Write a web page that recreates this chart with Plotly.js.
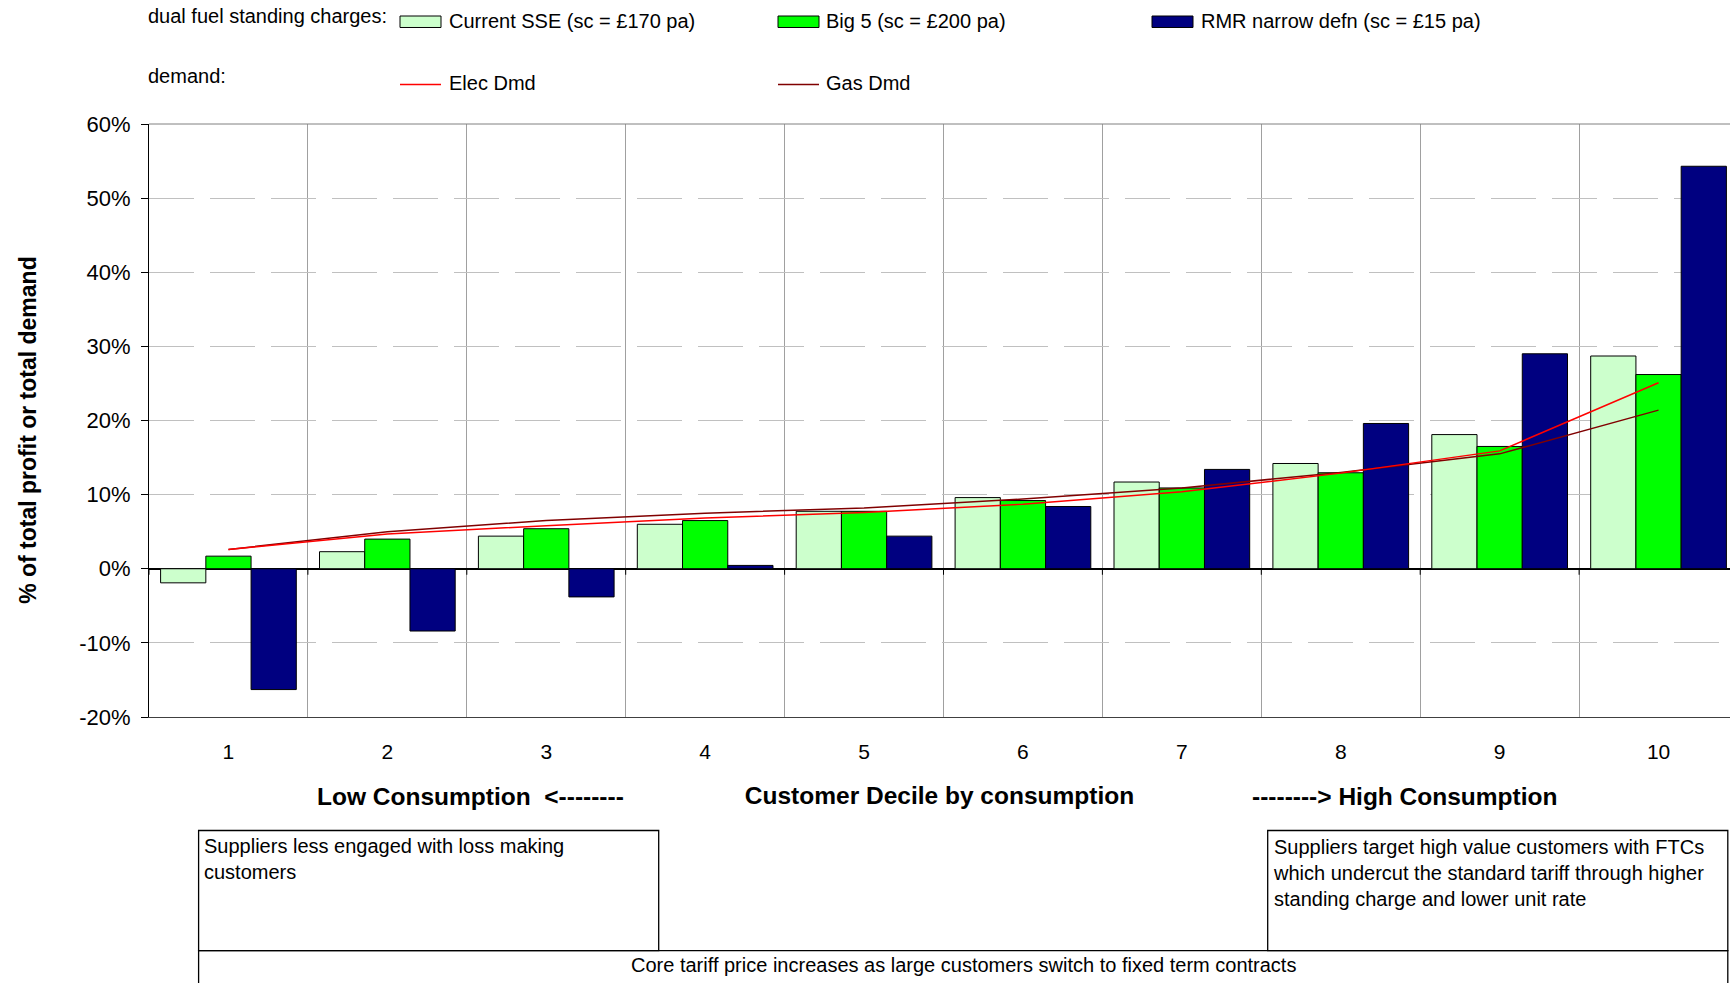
<!DOCTYPE html>
<html><head><meta charset="utf-8">
<script src="https://cdn.plot.ly/plotly-3.0.1.min.js"></script>
<style>html,body{margin:0;padding:0;overflow:hidden;background:#fff}#chart{width:1730px;height:983px}</style>
</head><body><div id="chart"></div>
<script>
// ---------- data ----------
const deciles = [1,2,3,4,5,6,7,8,9,10];
const barNames = ['Current SSE (sc = £170 pa)','Big 5 (sc = £200 pa)','RMR narrow defn (sc = £15 pa)'];
const currentSSE = [-1.9, 2.3, 4.4, 6.0, 7.75, 9.6, 11.7, 14.2, 18.1, 28.7];
const big5       = [1.7, 4.0, 5.4, 6.5, 7.75, 9.2, 10.9, 12.95, 16.5, 26.2];
const rmrNarrow  = [-16.3, -8.4, -3.8, 0.45, 4.4, 8.4, 13.4, 19.6, 29.0, 54.3];
const lineNames = ['Elec Dmd','Gas Dmd'];
const elecDmd = [2.6, 4.7, 5.8, 6.85, 7.6, 8.7, 10.4, 12.9, 15.9, 25.1];
const gasDmd  = [2.6, 5.0, 6.5, 7.5, 8.2, 9.4, 10.9, 13.0, 15.5, 21.4];
const yTickVals = [-20,-10,0,10,20,30,40,50,60];
const yTickText = yTickVals.map(v => v + '%');
const yTitle = '% of total profit or total demand';
const legendRowLabels = ['dual fuel standing charges:','demand:'];
const xTitleLeft = 'Low Consumption  <--------';
const xTitleMid = 'Customer Decile by consumption';
const xTitleRight = '--------> High Consumption';
const noteLow = 'Suppliers less engaged with loss making<br>customers';
const noteHigh = 'Suppliers target high value customers with FTCs<br>which undercut the standard tariff through higher<br>standing charge and lower unit rate';
const noteCore = 'Core tariff price increases as large customers switch to fixed term contracts';

// ---------- styling ----------
const barColors = ['#CCFFCC','#00FF00','#000080'];
const lineColors = ['#FF0000','#800000'];
const FONT = 'Liberation Sans, Arial, sans-serif';
const TXT = 20;

// plot area in pixels
const L = 149, T = 123.6, B = 717.2, R = 1730, WIDTH = 1730, HEIGHT = 983;
const PW = R - L, PH = B - T;
const px = v => (v - L) / PW;
const py = v => (B - v) / PH;

const barSeries = [currentSSE, big5, rmrNarrow];
const lineSeries = [elecDmd, gasDmd];

const traces = [];
barSeries.forEach((vals, i) => traces.push({
  type: 'bar', x: deciles, y: vals, name: barNames[i], showlegend: false,
  marker: {color: barColors[i], line: {color: '#000000', width: 1}}
}));
// gas first, elec on top
[1, 0].forEach(i => traces.push({
  type: 'scatter', mode: 'lines', x: deciles, y: lineSeries[i], name: lineNames[i], showlegend: false,
  line: {color: lineColors[i], width: 1.5}
}));

const shapes = [];
const annotations = [];

// plot top border
shapes.push({type: 'line', xref: 'paper', yref: 'paper', x0: 0, x1: 1, y0: 1, y1: 1, line: {color: '#808080', width: 1}});
// tick marks on the zero line at category boundaries
deciles.forEach(d => shapes.push({
  type: 'line', xref: 'x', yref: 'y', x0: d - 0.5, x1: d - 0.5,
  ysizemode: 'pixel', yanchor: 0, y0: 0, y1: -6, line: {color: '#000000', width: 1}
}));

// ---------- manual legend ----------
const itemX = [400, 778, 1152];
const textX = [447, 824, 1199];
annotations.push({xref: 'paper', yref: 'paper', x: px(146), y: py(15.5), xanchor: 'left', yanchor: 'middle',
  text: legendRowLabels[0], showarrow: false, font: {family: FONT, size: TXT, color: '#000'}});
annotations.push({xref: 'paper', yref: 'paper', x: px(146), y: py(76), xanchor: 'left', yanchor: 'middle',
  text: legendRowLabels[1], showarrow: false, font: {family: FONT, size: TXT, color: '#000'}});
barNames.forEach((n, i) => {
  shapes.push({type: 'rect', xref: 'paper', yref: 'paper', x0: px(itemX[i]), x1: px(itemX[i] + 41),
    y0: py(15.5), y1: py(27), fillcolor: barColors[i], line: {color: '#000000', width: 1}});
  annotations.push({xref: 'paper', yref: 'paper', x: px(textX[i]), y: py(20.5), xanchor: 'left', yanchor: 'middle',
    text: n, showarrow: false, font: {family: FONT, size: TXT, color: '#000'}});
});
lineNames.forEach((n, i) => {
  shapes.push({type: 'line', xref: 'paper', yref: 'paper', x0: px(itemX[i]), x1: px(itemX[i] + 41),
    y0: py(84), y1: py(84), line: {color: lineColors[i], width: 1.5}});
  annotations.push({xref: 'paper', yref: 'paper', x: px(textX[i]), y: py(82.5), xanchor: 'left', yanchor: 'middle',
    text: n, showarrow: false, font: {family: FONT, size: TXT, color: '#000'}});
});

// ---------- x title side pieces ----------
annotations.push({xref: 'paper', yref: 'paper', x: px(470.5), y: py(796.5), xanchor: 'center', yanchor: 'middle',
  text: '<b>' + xTitleLeft + '</b>', showarrow: false, font: {family: FONT, size: 24.5, color: '#000'}});
annotations.push({xref: 'paper', yref: 'paper', x: px(1404), y: py(796.5), xanchor: 'center', yanchor: 'middle',
  text: '<b>' + xTitleRight + '</b>', showarrow: false, font: {family: FONT, size: 24.5, color: '#000'}});

// ---------- note boxes ----------
const boxLine = {color: '#000000', width: 1.3};
shapes.push({type: 'rect', xref: 'paper', yref: 'paper', x0: px(198.6), x1: px(658.7), y0: py(830.8), y1: py(951), line: boxLine});
shapes.push({type: 'rect', xref: 'paper', yref: 'paper', x0: px(1267.7), x1: px(1727.8), y0: py(830.8), y1: py(951), line: boxLine});
shapes.push({type: 'rect', xref: 'paper', yref: 'paper', x0: px(198.6), x1: px(1727.8), y0: py(951), y1: py(1010), line: boxLine});
annotations.push({xref: 'paper', yref: 'paper', x: px(202), y: py(833), xanchor: 'left', yanchor: 'top', align: 'left',
  text: noteLow, showarrow: false, font: {family: FONT, size: TXT, color: '#000'}});
annotations.push({xref: 'paper', yref: 'paper', x: px(1271), y: py(834), xanchor: 'left', yanchor: 'top', align: 'left',
  text: noteHigh, showarrow: false, font: {family: FONT, size: TXT, color: '#000'}});
annotations.push({xref: 'paper', yref: 'paper', x: px(963), y: py(965.4), xanchor: 'center', yanchor: 'middle',
  text: noteCore, showarrow: false, font: {family: FONT, size: TXT, color: '#000'}});

const layout = {
  width: WIDTH, height: HEIGHT,
  margin: {l: L, r: WIDTH - R, t: T, b: HEIGHT - B, pad: 0},
  paper_bgcolor: '#ffffff', plot_bgcolor: '#ffffff',
  font: {family: FONT, color: '#000'},
  barmode: 'group', bargap: 0.146, bargroupgap: 0,
  showlegend: false,
  xaxis: {
    range: [0.5, 0.5 + PW / 158.9], autorange: false, automargin: false,
    tickmode: 'array', tickvals: deciles, ticktext: deciles.map(String),
    ticks: '', showgrid: false, zeroline: false,
    showline: true, linecolor: '#404040', linewidth: 1,
    tickfont: {family: FONT, size: 21, color: '#000'}, ticklabelstandoff: 16,
    minor: {tickmode: 'linear', tick0: 0.5, dtick: 1, showgrid: true, gridcolor: '#A0A0A0', gridwidth: 1, ticks: ''},
    title: {text: '<b>' + xTitleMid + '</b>', font: {family: FONT, size: 24.5, color: '#000'}, standoff: 24}
  },
  yaxis: {
    range: [-20, 60], autorange: false, automargin: false,
    tickmode: 'array', tickvals: yTickVals, ticktext: yTickText,
    ticks: 'outside', ticklen: 7, tickcolor: '#000', tickwidth: 1,
    tickfont: {family: FONT, size: 22, color: '#000'}, ticklabelstandoff: 6,
    showline: true, linecolor: '#000000', linewidth: 1,
    showgrid: true, gridcolor: '#C0C0C0', gridwidth: 1, griddash: '45px,16px',
    zeroline: true, zerolinecolor: '#000000', zerolinewidth: 1.5,
    title: {text: '<b>' + yTitle + '\u00A0\u00A0\u00A0</b>', font: {family: FONT, size: 23, color: '#000'}, standoff: 36}
  },
  shapes: shapes,
  annotations: annotations
};

Plotly.newPlot('chart', traces, layout, {displayModeBar: false, staticPlot: true});
</script>
</body></html>
